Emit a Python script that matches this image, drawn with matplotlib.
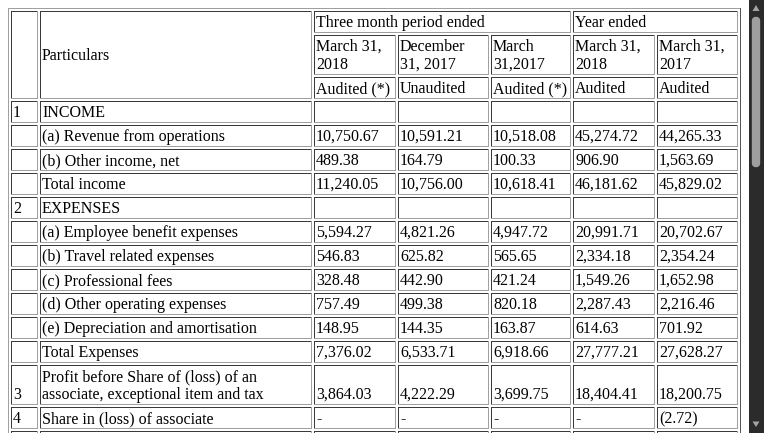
import matplotlib.pyplot as plt
from matplotlib.patches import Rectangle, FancyBboxPatch, Polygon

# ---- data ----
particulars = [
    "INCOME",
    "(a) Revenue from operations",
    "(b) Other income, net",
    "Total income",
    "EXPENSES",
    "(a) Employee benefit expenses",
    "(b) Travel related expenses",
    "(c) Professional fees",
    "(d) Other operating expenses",
    "(e) Depreciation and amortisation",
    "Total Expenses",
    "Profit before Share of (loss) of an\nassociate, exceptional item and tax",
    "Share in (loss) of associate",
    "",
]
row_no = ["1", "", "", "", "2", "", "", "", "", "", "", "3", "4", ""]

q_mar18 = ["", "10,750.67", "489.38", "11,240.05", "", "5,594.27", "546.83", "328.48",
           "757.49", "148.95", "7,376.02", "3,864.03", "-", ""]
q_dec17 = ["", "10,591.21", "164.79", "10,756.00", "", "4,821.26", "625.82", "442.90",
           "499.38", "144.35", "6,533.71", "4,222.29", "-", ""]
q_mar17 = ["", "10,518.08", "100.33", "10,618.41", "", "4,947.72", "565.65", "421.24",
           "820.18", "163.87", "6,918.66", "3,699.75", "-", ""]
y_mar18 = ["", "45,274.72", "906.90", "46,181.62", "", "20,991.71", "2,334.18", "1,549.26",
           "2,287.43", "614.63", "27,777.21", "18,404.41", "-", ""]
y_mar17 = ["", "44,265.33", "1,563.69", "45,829.02", "", "20,702.67", "2,354.24", "1,652.98",
           "2,216.46", "701.92", "27,628.27", "18,200.75", "(2.72)", ""]

group_labels = ["Three month period ended", "Year ended"]
date_labels = ["March 31,\n2018", "December\n31, 2017", "March\n31,2017", "March 31,\n2018", "March 31,\n2017"]
audit_labels = ["Audited (*)", "Unaudited", "Audited (*)", "Audited", "Audited"]

# ---- layout (pixels) ----
W, H = 764, 433
col_left = [11, 40, 314, 398, 491, 573, 657]
col_w = [27, 272, 82, 91, 80, 82, 81]
LINE = 18
SP = 2
FONT = dict(family="Liberation Serif", size=11.52, color="black")
DARK = "#3a3a3a"
LIGHT = "#a0a0a0"

fig = plt.figure(figsize=(W / 100, H / 100), dpi=100)
ax = fig.add_axes([0, 0, 1, 1])
ax.set_xlim(0, W)
ax.set_ylim(H, 0)
ax.axis("off")


def px(x, y, w, h, c):
    ax.add_patch(Rectangle((x, y), w, h, facecolor=c, edgecolor="none", antialiased=False))


def cell(x, y, w, h, text="", middle=False):
    # inset border: top/left dark, bottom/right light
    px(x, y, w, 1, DARK)
    px(x, y, 1, h, DARK)
    px(x, y + h - 1, w, 1, LIGHT)
    px(x + w - 1, y, 1, h, LIGHT)
    if not text:
        return
    lines = text.split("\n")
    if middle:
        first = y + (h - LINE * len(lines)) / 2 + 14
    else:
        first = y + h - 6 - LINE * (len(lines) - 1)
    for i, ln in enumerate(lines):
        ax.text(x + 2, first + i * LINE, ln, va="baseline", ha="left", **FONT)


# outer table border (outset)
px(8, 8, 733, 1, LIGHT)
px(8, 8, 1, H, LIGHT)
px(740, 8, 1, H, "#555555")

# header
y0 = 11
h_rows = [4 + LINE, 4 + 2 * LINE, 4 + LINE]
h_tot = sum(h_rows) + 2 * SP
cell(col_left[0], y0, col_w[0], h_tot)
cell(col_left[1], y0, col_w[1], h_tot, "Particulars", middle=True)
cell(col_left[2], y0, col_left[4] + col_w[4] - col_left[2], h_rows[0], group_labels[0])
cell(col_left[5], y0, col_left[6] + col_w[6] - col_left[5], h_rows[0], group_labels[1])
y1 = y0 + h_rows[0] + SP
y2 = y1 + h_rows[1] + SP
for j in range(5):
    cell(col_left[j + 2], y1, col_w[j + 2], h_rows[1], date_labels[j])
    cell(col_left[j + 2], y2, col_w[j + 2], h_rows[2], audit_labels[j])

# body
y = y2 + h_rows[2] + SP
cols = [row_no, particulars, q_mar18, q_dec17, q_mar17, y_mar18, y_mar17]
for i in range(len(particulars)):
    n = max(1, particulars[i].count("\n") + 1)
    h = 4 + LINE * n
    for j, col in enumerate(cols):
        cell(col_left[j], y, col_w[j], h, col[i])
    y += h + SP

# scrollbar
px(749, 0, 15, H, "#2b2b2b")
ax.add_patch(FancyBboxPatch((752.5, 17.5), 7, 149, boxstyle="round,pad=0,rounding_size=3.5",
                            facecolor="#9f9f9f", edgecolor="#9f9f9f", lw=1))
ax.add_patch(Polygon([[752.5, 11], [759.5, 11], [756, 5]], closed=True,
                     facecolor="#a3a3a3", edgecolor="none"))
ax.add_patch(Polygon([[752.5, 421.5], [759.5, 421.5], [756, 427]], closed=True,
                     facecolor="#a3a3a3", edgecolor="none"))

fig.savefig("out.png", dpi=100, facecolor="white")
